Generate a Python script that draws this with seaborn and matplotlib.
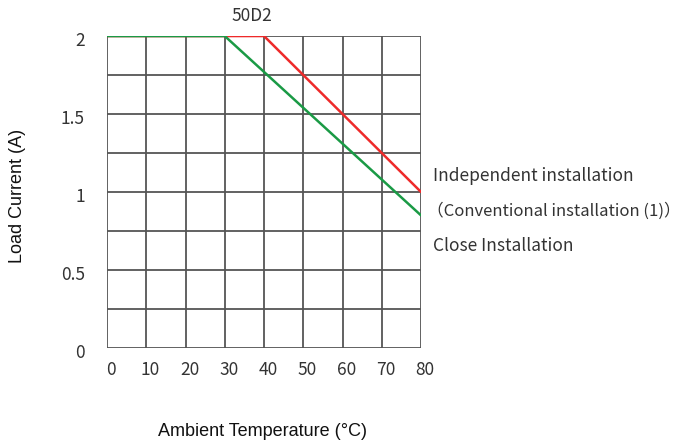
import matplotlib
matplotlib.use("Agg")
import matplotlib.pyplot as plt
import matplotlib.transforms as mtransforms
import seaborn as sns
import pandas as pd

# Data
title = "50D2"
indep_x = [0, 40, 80]
indep_y = [2.0, 2.0, 1.0]
close_x = [0, 30, 80]
close_y = [2.0, 2.0, 0.85]
x_ticks = [0, 10, 20, 30, 40, 50, 60, 70, 80]
y_ticks = [0, 0.5, 1, 1.5, 2]
y_tick_labels = ["0", "0.5", "1", "1.5", "2"]
label_indep = "Independent installation"
label_conv = "（Conventional installation (1)）"
label_close = "Close Installation"
xlabel = "Ambient Temperature (°C)"
ylabel = "Load Current (A)"

sns.set_theme(style="white")
cjk = ["Noto Sans CJK SC", "DejaVu Sans"]
plt.rcParams["font.family"] = cjk

fig = plt.figure(figsize=(6.88, 4.46), dpi=100)
ax = fig.add_axes([0.1555, 0.2197, 0.4565, 0.6995])

df_i = pd.DataFrame({"x": indep_x, "y": indep_y})
df_c = pd.DataFrame({"x": close_x, "y": close_y})

ax.set_xlim(0, 80)
ax.set_ylim(0, 2)

# grid
for xv in range(0, 81, 10):
    ax.axvline(xv, color="#555555", lw=1.3, zorder=1)
for k in range(9):
    ax.axhline(k * 0.25, color="#555555", lw=1.3, zorder=1)

sns.lineplot(data=df_i, x="x", y="y", ax=ax, color="#ee2a2a", lw=1.8, zorder=3)
sns.lineplot(data=df_c, x="x", y="y", ax=ax, color="#1a9a45", lw=1.8, zorder=4)

for s in ax.spines.values():
    s.set_visible(False)

ax.set_xticks(x_ticks)
ax.set_xticklabels([str(v) for v in x_ticks])
ax.set_yticks(y_ticks)
ax.set_yticklabels(y_tick_labels)
ax.tick_params(axis="both", length=0, labelsize=12.5, labelcolor="#333333")
ax.tick_params(axis="x", pad=9)
ax.tick_params(axis="y", pad=16)
shift_x = mtransforms.ScaledTranslation(4 / 100, 0, fig.dpi_scale_trans)
shift_y = mtransforms.ScaledTranslation(0, -3 / 100, fig.dpi_scale_trans)
for t in ax.get_xticklabels():
    t.set_fontweight("light")
    t.set_transform(t.get_transform() + shift_x)
for t in ax.get_yticklabels():
    t.set_fontweight("light")
    t.set_transform(t.get_transform() + shift_y)

ax.set_xlabel("")
ax.set_ylabel("")
arial = ["Liberation Sans", "DejaVu Sans"]
fig.text(0.381, 0.032, xlabel, ha="center", va="center", fontsize=13,
         color="#111111", family=arial)
fig.text(0.025, 0.56, ylabel, ha="center", va="center", rotation=90,
         fontsize=13, color="#111111", family=arial)

ax.text(37, 2.13, title, ha="center", va="center", fontsize=12.5,
        color="#333333", fontweight="light", clip_on=False)

ax.text(83, 1.105, label_indep, ha="left", va="center", fontsize=12.5,
        color="#333333", fontweight="light", clip_on=False)
ax.text(81.5, 0.88, label_conv, ha="left", va="center", fontsize=12,
        color="#333333", fontweight="light", clip_on=False)
ax.text(83, 0.655, label_close, ha="left", va="center", fontsize=12.5,
        color="#333333", fontweight="light", clip_on=False)

if ax.get_legend():
    ax.get_legend().remove()

fig.savefig("out.png", dpi=100)
